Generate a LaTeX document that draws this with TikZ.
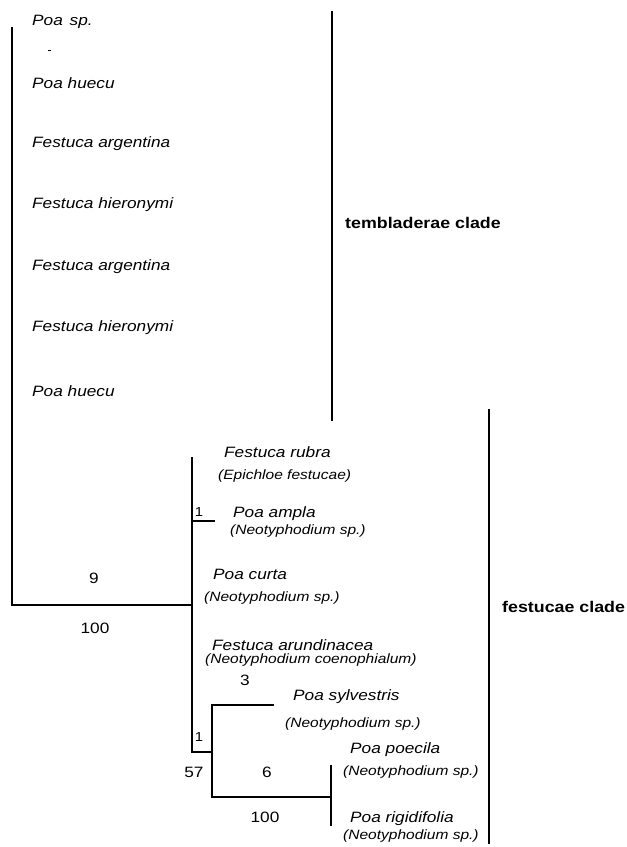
\documentclass[tikz,border=0pt]{standalone}
\usepackage{fontspec}
\setmainfont{Liberation Sans}
\newfontfamily\tx[FakeStretch=1.15]{Liberation Sans}
\begin{document}
\begin{tikzpicture}[x=1pt,y=-1pt,
  br/.style={line width=1.4pt, black, line cap=rect},
  taxon/.style={anchor=west, inner sep=0pt, font=\tx\itshape\fontsize{15}{17}\selectfont},
  host/.style={anchor=west, inner sep=0pt, font=\tx\itshape\fontsize{13.5}{15}\selectfont},
  num/.style={inner sep=0pt, font=\tx\fontsize{15}{17}\selectfont},
  small/.style={inner sep=0pt, font=\tx\fontsize{13}{15}\selectfont},
  clade/.style={anchor=west, inner sep=0pt, font=\tx\bfseries\fontsize{15.5}{18}\selectfont}]
\useasboundingbox (0,0) rectangle (627,847);

% tree vertices
\coordinate (rootT) at (12,28);
\coordinate (root) at (12,605);
\coordinate (fN) at (192,605);
\coordinate (fT) at (192,458);
\coordinate (fA) at (192,521);
\coordinate (fAe) at (214,521);
\coordinate (fB) at (192,752);
\coordinate (sN) at (212,752);
\coordinate (sT) at (212,705);
\coordinate (sB) at (212,797);
\coordinate (sTe) at (273,705);
\coordinate (pN) at (331,797);
\coordinate (pT) at (331,766);
\coordinate (pB) at (331,825);
\coordinate (tbT) at (332,12);
\coordinate (tbB) at (332,420);
\coordinate (fbT) at (489,410);
\coordinate (fbB) at (489,843);
\coordinate (dashA) at (48,50);
\coordinate (dashB) at (51,50);

\draw[br] (rootT) -- (root) -- (fN);
\draw[br] (fT) -- (fB) -- (sN);
\draw[br] (fA) -- (fAe);
\draw[br] (sTe) -- (sT) -- (sB) -- (pN);
\draw[br] (pT) -- (pB);
\draw[br] (tbT) -- (tbB);
\draw[br] (fbT) -- (fbB);
\draw[line width=1pt] (dashA) -- (dashB);

% tembladerae taxa
\node[taxon] (t1) at (32,22) {Poa\hspace{0.45em}sp.};
\node[taxon] (t2) at (32,83) {Poa huecu};
\node[taxon] (t3) at (32,144) {Festuca argentina};
\node[taxon] (t4) at (32,205) {Festuca hieronymi};
\node[taxon] (t5) at (32,267) {Festuca argentina};
\node[taxon] (t6) at (32,328) {Festuca hieronymi};
\node[taxon] (t7) at (32,391) {Poa huecu};

% festucae taxa
\node[taxon] (f1) at (224,452) {Festuca rubra};
\node[host]  (h1) at (218,476) {(Epichloe festucae)};
\node[taxon] (f2) at (233,514) {Poa ampla};
\node[host]  (h2) at (230,531) {(Neotyphodium sp.)};
\node[taxon] (f3) at (213,574) {Poa curta};
\node[host]  (h3) at (204,598) {(Neotyphodium sp.)};
\node[taxon] (f4) at (212,645) {Festuca arundinacea};
\node[host]  (h4) at (205,660) {(Neotyphodium coenophialum)};
\node[taxon] (f5) at (293,697) {Poa sylvestris};
\node[host]  (h5) at (285,724) {(Neotyphodium sp.)};
\node[taxon] (f6) at (350,750) {Poa poecila};
\node[host]  (h6) at (343,772) {(Neotyphodium sp.)};
\node[taxon] (f7) at (350,819) {Poa rigidifolia};
\node[host]  (h7) at (343,836) {(Neotyphodium sp.)};

% branch support numbers
\node[num] (n9) at (94,578) {9};
\node[num] (n100a) at (95,628) {100};
\node[small] (n1a) at (199,512) {1};
\node[small] (n1b) at (199,737) {1};
\node[num] (n57) at (194,772) {57};
\node[num] (n3) at (245,680) {3};
\node[num] (n6) at (267,772) {6};
\node[num] (n100b) at (265,817) {100};

% clade labels
\node[clade] (ct) at (345,223) {tembladerae clade};
\node[clade] (cf) at (502,607) {festucae clade};
\end{tikzpicture}
\end{document}
